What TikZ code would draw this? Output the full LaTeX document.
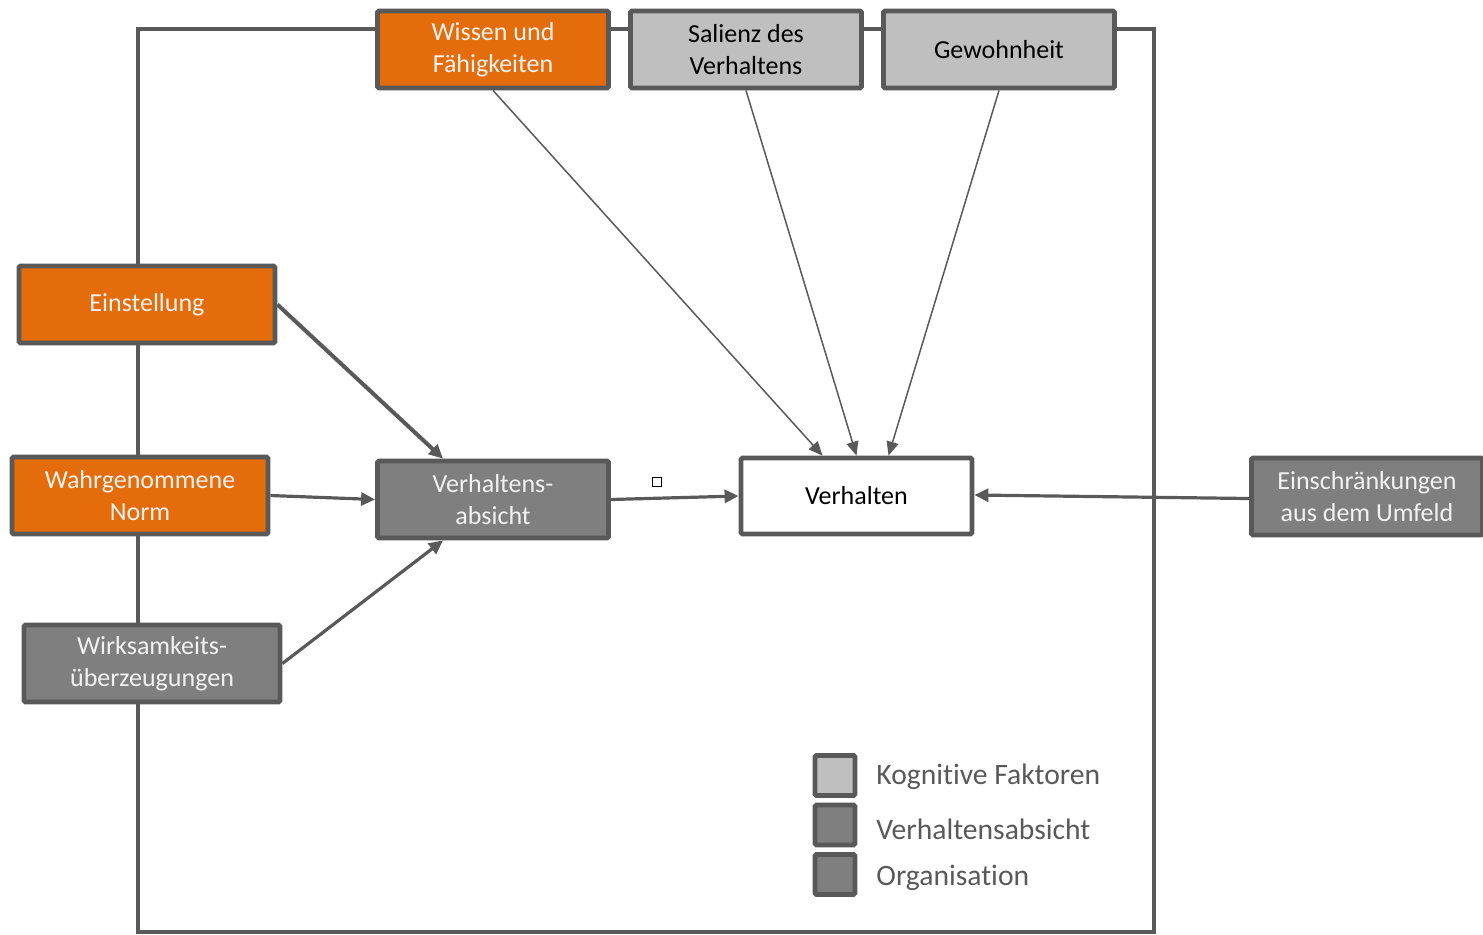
\documentclass[tikz,border=0pt]{standalone}
\usepackage{fontspec}
\setmainfont{Carlito}[Ligatures=NoCommon, RawFeature=-liga]
\usetikzlibrary{arrows.meta}
\definecolor{bd}{HTML}{595959}
\definecolor{orng}{HTML}{E46C0A}
\definecolor{lgray}{HTML}{BFBFBF}
\definecolor{dgray}{HTML}{7F7F7F}
\definecolor{wtext}{HTML}{F2F2F2}
\tikzset{
  box/.style={draw=bd, line width=2.4pt, rounded corners=0.8pt, minimum width=115.5pt, minimum height=38.5pt,
    align=center, inner sep=0pt, font=\fontsize{13}{16}\selectfont},
  wide/.style={minimum width=128pt},
  orangebox/.style={box, fill=orng, text=wtext},
  lightbox/.style={box, fill=lgray, text=black},
  darkbox/.style={box, fill=dgray, text=wtext},
  whitebox/.style={box, fill=white, text=black},
  thinarrow/.style={draw=bd, line width=0.75pt, -{Triangle[length=7pt,width=6pt]}},
  thickarrow/.style={draw=bd, line width=2pt, -{Triangle[length=7pt,width=6.5pt]}},
  medarrow/.style={draw=bd, line width=1.6pt, -{Triangle[length=7pt,width=6.5pt]}},
  frame/.style={draw=bd, line width=2.2pt},
  legsq/.style={draw=bd, line width=2.4pt, rounded corners=0.8pt, minimum width=20pt, minimum height=20pt, inner sep=0pt},
  legtext/.style={anchor=west, inner sep=0pt, text=bd, font=\fontsize{14.8}{17}\selectfont},
}
\begin{document}
\begin{tikzpicture}[x=0.5pt, y=-0.5pt]
\useasboundingbox (0,0) rectangle (1483,934);
% frame
\draw[frame] (138,932) -- (138,29) -- (1154,29) -- (1154,932) -- cycle;
% nodes
\node[orangebox] (wis) at (493,49.5) {Wissen und\\Fähigkeiten};
\node[lightbox] (sal) at (746,49.5) {Salienz des\\Verhaltens};
\node[lightbox] (gew) at (999,49.5) {Gewohnheit};
\node[orangebox, wide] (ein) at (147,304.5) {Einstellung};
\node[orangebox, wide] (nor) at (140,495.5) {Wahrgenommene\\Norm};
\node[darkbox, wide] (wir) at (152,663.5) {Wirksamkeits-\\überzeugungen};
\node[darkbox] (abs) at (493,499.5) {Verhaltens-\\absicht};
\node[whitebox, minimum height=38pt] (ver) at (856.5,496) {Verhalten};
\node[darkbox] (ens) at (1367,496.5) {Einschränkungen\\aus dem Umfeld};
\node[draw=black, line width=0.5pt, minimum size=4.5pt, inner sep=0pt] (sq) at (657,482) {};
% arrows
\draw[thinarrow] (wis.south) -- ([xshift=-17pt]ver.north);
\draw[thinarrow] (sal.south) -- (ver.north);
\draw[thinarrow] (gew.south) -- ([xshift=16pt]ver.north);
\draw[thickarrow] (ein.east) -- ([xshift=-25pt]abs.north);
\draw[medarrow] (nor.east) -- (abs.west);
\draw[medarrow] (wir.east) -- ([xshift=-25pt]abs.south);
\draw[medarrow] (abs.east) -- (ver.west);
\draw[medarrow] ([yshift=-1pt]ens.west) -- ([yshift=0.5pt]ver.east);
% legend
\node[legsq, fill=lgray] (l1) at (835,775.5) {};
\node[legsq, fill=dgray] (l2) at (835,825) {};
\node[legsq, fill=dgray] (l3) at (835,874.5) {};
\node[legtext] (t1) at (876,777) {Kognitive Faktoren};
\node[legtext] (t2) at (876,829) {Verhaltensabsicht};
\node[legtext] (t3) at (876,878) {Organisation};
\end{tikzpicture}
\end{document}
